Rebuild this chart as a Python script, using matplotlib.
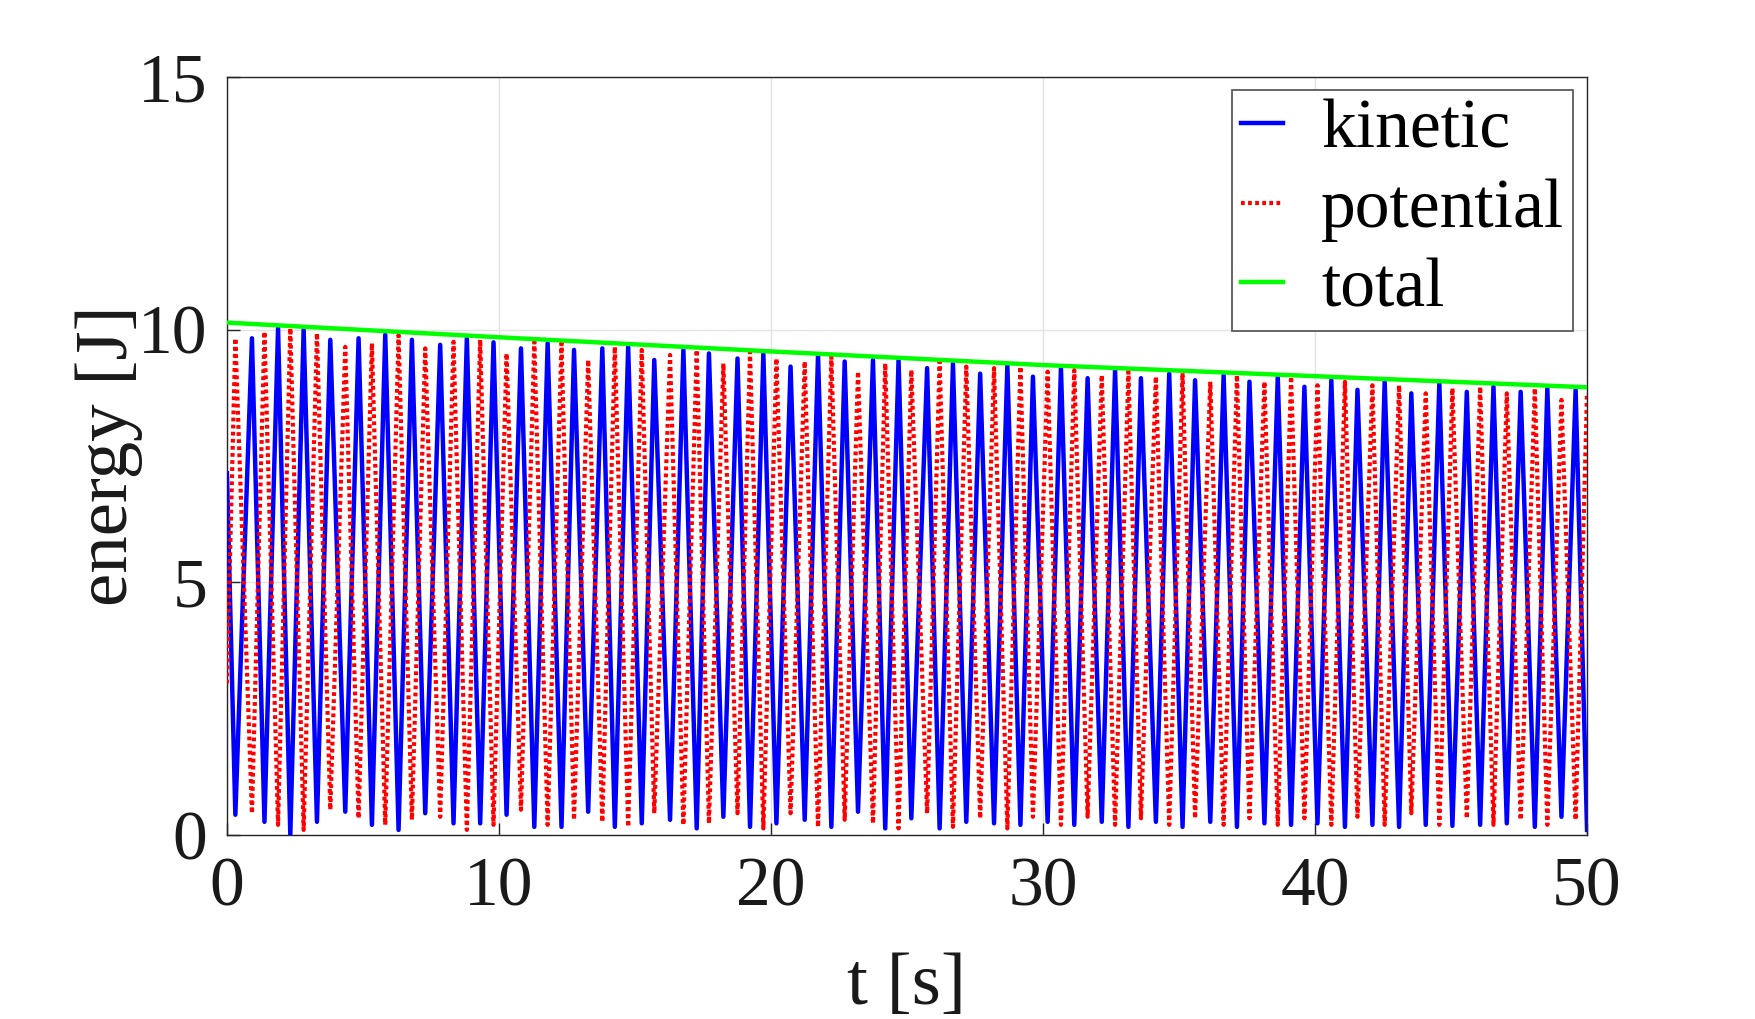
import matplotlib
matplotlib.use("Agg")
import matplotlib.pyplot as plt

kinetic_t = [0.0, 0.31, 0.92, 1.38, 1.88, 2.33, 2.82, 3.31, 3.80, 4.35, 4.84, 5.33, 5.82, 6.31, 6.80,
             7.29, 7.84, 8.33, 8.82, 9.31, 9.80, 10.28, 10.81, 11.30, 11.79, 12.30, 12.76, 13.28, 13.80,
             14.26, 14.75, 15.25, 15.71, 16.29, 16.78, 17.27, 17.72, 18.25, 18.77, 19.23, 19.72, 20.20,
             20.72, 21.24, 21.73, 22.22, 22.71, 23.20, 23.75, 24.20, 24.69, 25.16, 25.74, 26.20, 26.69,
             27.18, 27.69, 28.20, 28.69, 29.17, 29.63, 30.17, 30.66, 31.15, 31.64, 32.16, 32.65, 33.14,
             33.60, 34.15, 34.64, 35.13, 35.59, 36.15, 36.64, 37.13, 37.59, 38.14, 38.63, 39.12, 39.61,
             40.09, 40.60, 41.10, 41.56, 42.11, 42.56, 43.09, 43.54, 44.07, 44.57, 45.05, 45.58, 46.07,
             46.56, 47.05, 47.56, 48.08, 48.54, 49.06, 49.58, 50.0]
kinetic_e = [7.16, 0.40, 9.83, 0.26, 10.03, 0.00, 10.00, 0.26, 9.80, 0.46, 9.83, 0.20, 9.90, 0.10, 9.80,
             0.43, 9.70, 0.23, 9.83, 0.23, 9.75, 0.40, 9.63, 0.16, 9.73, 0.16, 9.60, 0.46, 9.63,
             0.16, 9.66, 0.23, 9.40, 0.30, 9.60, 0.13, 9.53, 0.36, 9.43, 0.16, 9.53, 0.23,
             9.27, 0.30, 9.50, 0.16, 9.37, 0.46, 9.40, 0.13, 9.40, 0.33, 9.24, 0.13, 9.33,
             0.26, 9.13, 0.23, 9.30, 0.20, 9.07, 0.26, 9.24, 0.20, 9.04, 0.26, 9.20, 0.16,
             9.04, 0.26, 9.13, 0.16, 9.00, 0.26, 9.10, 0.16, 8.97, 0.23, 9.07, 0.20, 8.87,
             0.23, 9.00, 0.16, 8.81, 0.20, 8.97, 0.16, 8.74, 0.20, 8.94, 0.18, 8.77, 0.20,
             8.87, 0.23, 8.77, 0.16, 8.84, 0.36, 8.81, 0.10]

potential_t = kinetic_t
potential_e = [3.00, 9.83, 0.43, 9.96, 0.20, 10.03, 0.10, 9.93, 0.50, 9.66, 0.33, 9.73, 0.20, 9.89, 0.30,
               9.63, 0.36, 9.76, 0.10, 9.80, 0.20, 9.53, 0.50, 9.76, 0.20, 9.73, 0.30, 9.40, 0.26,
               9.66, 0.16, 9.60, 0.43, 9.50, 0.20, 9.60, 0.23, 9.33, 0.43, 9.56, 0.13, 9.43,
               0.43, 9.37, 0.16, 9.47, 0.30, 9.17, 0.23, 9.33, 0.13, 9.20, 0.43, 9.37, 0.16,
               9.27, 0.33, 9.24, 0.13, 9.27, 0.36, 9.17, 0.20, 9.20, 0.36, 9.10, 0.20, 9.17,
               0.33, 9.07, 0.20, 9.14, 0.33, 8.97, 0.20, 9.10, 0.33, 8.97, 0.20, 9.07, 0.33,
               8.90, 0.20, 8.97, 0.36, 8.90, 0.20, 8.90, 0.43, 8.74, 0.20, 8.84, 0.33, 8.87,
               0.20, 8.74, 0.30, 8.84, 0.20, 8.61, 0.30, 8.75]

total_t = [0, 10, 20, 30, 40, 50]
total_e = [10.14, 9.85, 9.57, 9.30, 9.08, 8.86]

x_ticks = [0, 10, 20, 30, 40, 50]
y_ticks = [0, 5, 10, 15]
labels = ["kinetic", "potential", "total"]

# ---- figure ----
plt.rcParams["font.family"] = ["Liberation Serif", "DejaVu Serif"]
fig = plt.figure(figsize=(17.55, 10.19), dpi=100)
ax = fig.add_axes([0.1293, 0.1806, 0.775, 0.7438])

ax.plot(kinetic_t, kinetic_e, color="#0000ff", lw=3.2, label=labels[0], zorder=3,
        solid_joinstyle="round")
ax.plot(potential_t, potential_e, color="#ff0000", lw=3.0, linestyle=(0, (0.9, 0.8)),
        dash_capstyle="butt", label=labels[1], zorder=4)
ax.plot(total_t, total_e, color="#00ff00", lw=3.2, label=labels[2], zorder=5)

ax.set_xlim(0, 50)
ax.set_ylim(0, 15)
ax.set_xticks(x_ticks)
ax.set_yticks(y_ticks)
ax.grid(True, color="#e3e3e3", lw=1.0, zorder=0)
ax.set_axisbelow(True)
ax.tick_params(direction="in", length=9, width=1.0, colors="#262626", labelsize=50,
               top=False, right=False)
ax.tick_params(axis="x", pad=16)
ax.tick_params(axis="y", pad=14)
for lab in ax.get_xticklabels() + ax.get_yticklabels():
    lab.set_color("#1a1a1a")
for s in ax.spines.values():
    s.set_color("#262626")
    s.set_linewidth(1.0)

ax.set_xlabel("t [s]", fontsize=54, color="#1a1a1a")
ax.set_ylabel("energy [J]", fontsize=54, color="#1a1a1a")
ax.xaxis.set_label_coords(0.5, -0.155)
ax.yaxis.set_label_coords(-0.062, 0.5)

leg = ax.legend(loc="upper right", bbox_to_anchor=(0.99, 0.983), borderaxespad=0,
                fontsize=50, frameon=True, fancybox=False, framealpha=1,
                edgecolor="#4d4d4d", handlelength=0.6, handletextpad=0.55,
                borderpad=0.13, labelspacing=0.23)
leg.get_frame().set_linewidth(1.2)

fig.savefig("out.png", dpi=100)
